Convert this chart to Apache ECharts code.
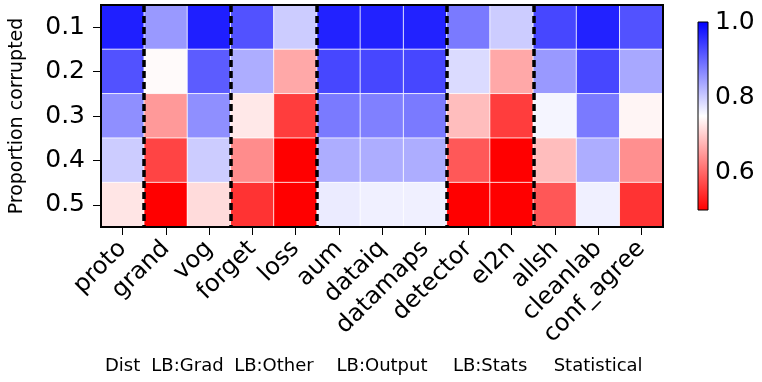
<!DOCTYPE html>
<html>
<head>
<meta charset="utf-8">
<script src="https://cdn.jsdelivr.net/npm/echarts@6/dist/echarts.min.js"></script>
<style>
    html, body { margin: 0; padding: 0; background: #fff; }
    #chart { width: 762px; height: 382px; }
</style>
</head>
<body>
<div id="chart"></div>
<script>
    // columns (methods) and rows (proportion corrupted)
    var methods = ['proto', 'grand', 'vog', 'forget', 'loss', 'aum', 'dataiq', 'datamaps', 'detector', 'el2n', 'allsh', 'cleanlab', 'conf_agree'];
    var proportions = ['0.1', '0.2', '0.3', '0.4', '0.5'];

    // one array per row
    var row01 = [0.97, 0.85, 0.97, 0.92, 0.80, 0.967, 0.967, 0.967, 0.88, 0.80, 0.93, 0.967, 0.92];
    var row02 = [0.92, 0.745, 0.91, 0.83, 0.665, 0.93, 0.93, 0.93, 0.785, 0.665, 0.85, 0.93, 0.835];
    var row03 = [0.86, 0.65, 0.86, 0.727, 0.56, 0.88, 0.875, 0.88, 0.685, 0.56, 0.76, 0.88, 0.74];
    var row04 = [0.80, 0.567, 0.80, 0.637, 0.48, 0.83, 0.83, 0.83, 0.586, 0.48, 0.685, 0.83, 0.64];
    var row05 = [0.725, 0.48, 0.715, 0.55, 0.48, 0.77, 0.765, 0.765, 0.48, 0.48, 0.585, 0.765, 0.55];
    var rows = [row01, row02, row03, row04, row05];

    // method groups: name + column boundaries
    var groupNames = ['Dist', 'LB:Grad', 'LB:Other', 'LB:Output', 'LB:Stats', 'Statistical'];
    var groupEdges = [0, 1, 3, 5, 8, 10, 13];
    var dividers = groupEdges.slice(1, -1);

    // colorbar
    var cbMin = 0.5, cbMax = 1.0;
    var cbTicks = [0.6, 0.8, 1.0];
    var bwr = ['#ff0000', '#ffffff', '#0000ff'];

    var cells = [];
    rows.forEach(function (r, i) {
        r.forEach(function (v, j) {
            cells.push([j, i, v]);
        });
    });

    var font = 'DejaVu Sans';
    var chart = echarts.init(document.getElementById('chart'));

    var option = {
        backgroundColor: '#fff',
        animation: false,
        textStyle: {fontFamily: font, color: '#000'},
        grid: [
            {left: 89, top: 5, width: 574, height: 222, show: true, z: 3,
                backgroundColor: 'transparent', borderColor: '#000', borderWidth: 2},
            {left: 698, top: 22, width: 10, height: 188, show: true,
                borderColor: '#000', borderWidth: 1,
                backgroundColor: new echarts.graphic.LinearGradient(0, 0, 0, 1, [
                    {offset: 0, color: bwr[2]},
                    {offset: 0.5, color: bwr[1]},
                    {offset: 1, color: bwr[0]}
                ])}
        ],
        xAxis: [
            {
                type: 'category', gridIndex: 0, data: methods,
                axisLine: {show: false},
                axisTick: {show: true, alignWithLabel: true, length: 8, lineStyle: {color: '#000', width: 1}},
                axisLabel: {rotate: 45, fontSize: 24, color: '#000', fontFamily: font, margin: 18, interval: 0},
                splitLine: {show: false}
            },
            {type: 'value', gridIndex: 0, min: 0, max: 13, show: false},
            {type: 'category', gridIndex: 1, show: false, data: ['cb']}
        ],
        yAxis: [
            {
                type: 'category', gridIndex: 0, data: proportions, inverse: true,
                name: 'Proportion corrupted', nameLocation: 'middle', nameGap: 74,
                nameTextStyle: {fontSize: 19, color: '#000', fontFamily: font},
                axisLine: {show: false},
                axisTick: {show: true, alignWithLabel: true, length: 8, lineStyle: {color: '#000', width: 1}},
                axisLabel: {fontSize: 25, color: '#000', fontFamily: font, margin: 16},
                splitLine: {show: false}
            },
            {
                type: 'value', gridIndex: 1, min: cbMin, max: cbMax, position: 'right',
                axisLine: {show: false},
                axisTick: {show: false},
                splitLine: {show: false},
                axisLabel: {
                    customValues: cbTicks, fontSize: 25, color: '#000', fontFamily: font, margin: 7,
                    formatter: function (v) { return v.toFixed(1); }
                }
            }
        ],
        visualMap: {
            show: false, type: 'continuous', seriesIndex: 0,
            min: cbMin, max: cbMax, inRange: {color: bwr}
        },
        series: [
            {
                type: 'heatmap', xAxisIndex: 0, yAxisIndex: 0, data: cells,
                itemStyle: {borderColor: '#fff', borderWidth: 0.8},
                emphasis: {disabled: true}
            },
            {
                type: 'line', xAxisIndex: 1, yAxisIndex: 0, data: [], silent: true,
                markLine: {
                    symbol: 'none', silent: true, label: {show: false},
                    lineStyle: {color: '#000', width: 3.5, type: [7, 4]},
                    data: dividers.map(function (d) { return {xAxis: d}; })
                }
            }
        ]
    };
    chart.setOption(option);

    // group captions centred under their columns
    var captions = groupNames.map(function (g, i) {
        var mid = (groupEdges[i] + groupEdges[i + 1]) / 2;
        var px = chart.convertToPixel({xAxisIndex: 1}, mid);
        return {
            type: 'text', x: px, y: 366,
            style: {text: g, fontSize: 18, fontFamily: font, fill: '#000', align: 'center', verticalAlign: 'middle'}
        };
    });
    chart.setOption({graphic: captions});
</script>
</body>
</html>
